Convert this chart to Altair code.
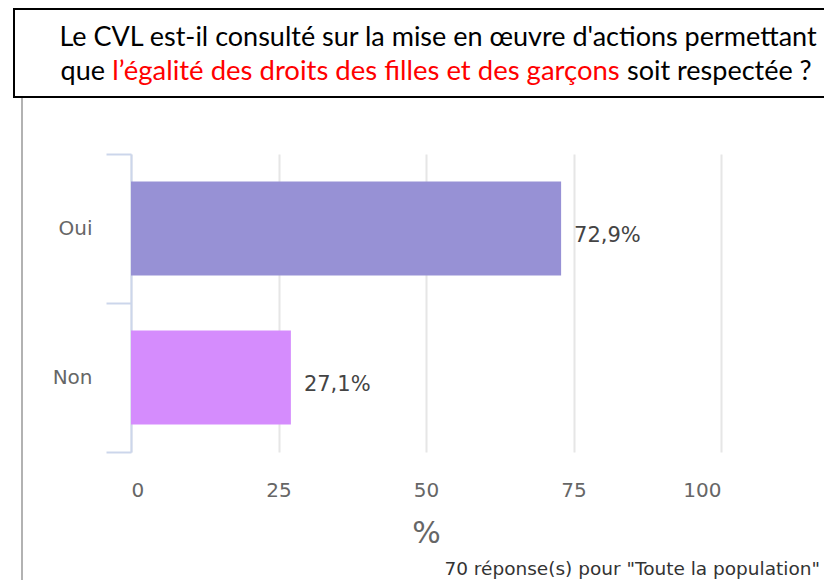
import altair as alt
import pandas as pd

categories = ["Oui", "Non"]
values = [72.9, 27.1]
labels = ["72,9%", "27,1%"]
colors = ["#9791d5", "#d58cfd"]
x_ticks = [0, 25, 50, 75, 100]

title_line1 = "Le CVL est-il consulté sur la mise en œuvre d'actions permettant"
title_l2_a = "que"
title_l2_b = "l’égalité des droits des filles et des garçons"
title_l2_c = "soit respectée ?"
footer = "70 réponse(s) pour \"Toute la population\""

df = pd.DataFrame({"cat": categories, "val": values, "lab": labels})
one = pd.DataFrame({"k": [0]})

W, H = 590, 298

x_enc = alt.X("val:Q", scale=alt.Scale(domain=[0, 100], nice=False),
              axis=alt.Axis(values=x_ticks, title="%", grid=True, gridColor="#e6e6e6",
                            gridWidth=2, domain=False, ticks=False, labelFontSize=20,
                            labelColor="#666666", labelFont="DejaVu Sans", labelPadding=28,
                            titleFontSize=30, titleColor="#666666", titleFont="DejaVu Sans",
                            titleFontWeight="normal", titlePadding=18))
y_enc = alt.Y("cat:N", sort=categories, scale=alt.Scale(paddingInner=0, paddingOuter=0),
              axis=alt.Axis(title=None, domainColor="#ccd6eb", domainWidth=2,
                            tickColor="#ccd6eb", tickWidth=2, tickSize=25, tickBand="extent",
                            labelFontSize=20, labelColor="#666666", labelFont="DejaVu Sans",
                            labelPadding=14))

bars = alt.Chart(df).mark_bar(height=94).encode(
    x=x_enc, y=y_enc,
    color=alt.Color("cat:N", scale=alt.Scale(domain=categories, range=colors), legend=None),
)
texts = alt.Chart(df).mark_text(align="left", baseline="middle", dx=13, dy=7,
                                fontSize=21, font="DejaVu Sans", color="#444444").encode(
    x="val:Q", y=alt.Y("cat:N", sort=categories), text="lab:N")

box = alt.Chart(one).mark_rect(fill="white", fillOpacity=0, stroke="black", strokeWidth=2).encode(
    x=alt.value(-117), x2=alt.value(740), y=alt.value(-145), y2=alt.value(-57))
leftline = alt.Chart(one).mark_rule(color="#999999", strokeWidth=1.5).encode(
    x=alt.value(-109), y=alt.value(-56), y2=alt.value(440))

tfont = "Lato"
tsize = 27
t1 = alt.Chart(one).mark_text(text=title_line1, align="center", baseline="middle",
                              font=tfont, fontSize=tsize, color="black").encode(
    x=alt.value(307), y=alt.value(-116))
t2a = alt.Chart(one).mark_text(text=title_l2_a, align="right", baseline="middle",
                               font=tfont, fontSize=tsize, color="black").encode(
    x=alt.value(-26), y=alt.value(-82))
t2b = alt.Chart(one).mark_text(text=title_l2_b, align="center", baseline="middle",
                               font=tfont, fontSize=27.5, color="#ff0000").encode(
    x=alt.value(235), y=alt.value(-82))
t2c = alt.Chart(one).mark_text(text=title_l2_c, align="left", baseline="middle",
                               font=tfont, fontSize=tsize, color="black").encode(
    x=alt.value(496), y=alt.value(-82))
foot = alt.Chart(one).mark_text(text=footer, align="right", baseline="middle",
                                font="DejaVu Sans", fontSize=18.5, color="#333333").encode(
    x=alt.value(689), y=alt.value(415))

chart = alt.layer(bars, texts, box, leftline, t1, t2a, t2b, t2c, foot).properties(
    width=W, height=H,
    autosize=alt.AutoSizeParams(type="none"),
    padding={"left": 123, "top": 146, "right": 103, "bottom": 128},
).configure_view(stroke=None).configure_axis(labelFontWeight="normal")

chart.save("out.html", embed_options={"renderer": "svg", "actions": False})
